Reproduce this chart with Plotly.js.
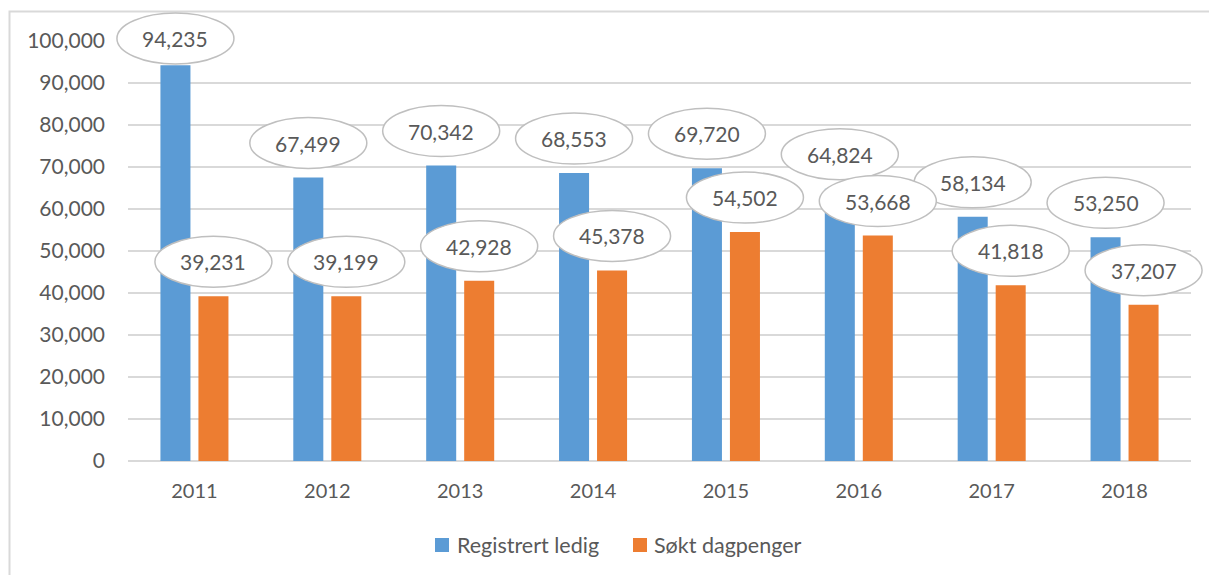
<!DOCTYPE html>
<html>
<head>
<meta charset="utf-8">
<script src="https://cdn.plot.ly/plotly-3.0.1.min.js"></script>
<style>
html,body{margin:0;padding:0;background:#fff;}
#chart{width:1209px;height:575px;}
</style>
</head>
<body>
<div id="chart"></div>
<script>
var years = ["2011","2012","2013","2014","2015","2016","2017","2018"];
var registrertLedig = [94235, 67499, 70342, 68553, 69720, 64824, 58134, 53250];
var soktDagpenger = [39231, 39199, 42928, 45378, 54502, 53668, 41818, 37207];
var seriesNames = ["Registrert ledig", "Søkt dagpenger"];
var seriesColors = ["#5B9BD5", "#ED7D31"];
var yTicks = [0,10000,20000,30000,40000,50000,60000,70000,80000,90000,100000];

var textColor = "#595959";
var fontFam = "Lato, 'Noto Sans', sans-serif";

var plotTop = 41, plotBottom = 461, plotLeft = 128, plotRight = 1191;
var yRange = [0, 100000];
var xRange = [-0.5, years.length - 0.5];
var W = plotRight - plotLeft, H = plotBottom - plotTop;
var pxPerUnit = H / (yRange[1] - yRange[0]);

// linear axis -> paper mapping (paper shapes are not clipped to the plot area)
function xToPaper(i){ return (i - xRange[0]) / (xRange[1] - xRange[0]); }
function yToPaper(v){ return (v - yRange[0]) / (yRange[1] - yRange[0]); }
function px2paperX(p){ return (p - plotLeft) / W; }
function px2paperY(p){ return (plotBottom - p) / H; }

var traces = [registrertLedig, soktDagpenger].map(function(vals, k){
  return {
    type: "bar", x: years, y: vals, name: seriesNames[k],
    marker: {color: seriesColors[k]}, hoverinfo: "skip", showlegend: false
  };
});

var shapes = [], annotations = [];
var ellW = 117, ellH = 51, barShift = 19, riseMax = 34.5, centerTopLimit = 38.5;
[registrertLedig, soktDagpenger].forEach(function(vals, k){
  var dx = k === 0 ? -barShift : barShift;
  vals.forEach(function(v, i){
    var barTopPx = plotBottom - v * pxPerUnit;
    var centerPx = Math.max(barTopPx - riseMax, centerTopLimit);
    var rise = barTopPx - centerPx;
    shapes.push({
      type: "circle", xref: "paper", yref: "paper",
      xsizemode: "pixel", ysizemode: "pixel",
      xanchor: xToPaper(i), yanchor: yToPaper(v),
      x0: dx - ellW/2, x1: dx + ellW/2,
      y0: rise - ellH/2, y1: rise + ellH/2,
      fillcolor: "#ffffff", line: {color: "#BFBFBF", width: 1.5}, layer: "above"
    });
    annotations.push({
      x: i, y: v, xref: "x", yref: "y", xshift: dx, yshift: rise,
      text: v.toLocaleString("en-US"), showarrow: false,
      font: {family: fontFam, size: 21, color: textColor},
      xanchor: "center", yanchor: "middle"
    });
  });
});

// legend (squares + labels)
var legendSquareX = [435, 633], legendTextX = [455, 652], legendY = 545, sq = 14;
seriesNames.forEach(function(name, k){
  shapes.push({
    type: "rect", xref: "paper", yref: "paper",
    x0: px2paperX(legendSquareX[k]), x1: px2paperX(legendSquareX[k] + sq),
    y0: px2paperY(legendY + sq/2), y1: px2paperY(legendY - sq/2),
    fillcolor: seriesColors[k], line: {width: 0}
  });
  annotations.push({
    xref: "paper", yref: "paper", x: px2paperX(legendTextX[k]), y: px2paperY(legendY),
    text: name, showarrow: false, xanchor: "left", yanchor: "middle",
    font: {family: fontFam, size: 21.5, color: textColor}
  });
});

// outer chart border (left and top)
shapes.push({
  type: "path", xref: "paper", yref: "paper",
  path: "M " + px2paperX(9.5) + "," + px2paperY(580) + " L " + px2paperX(9.5) + "," + px2paperY(11.5) + " L " + px2paperX(1215) + "," + px2paperY(11.5),
  line: {color: "#D9D9D9", width: 2}, layer: "below"
});

var layout = {
  width: 1209, height: 575,
  margin: {l: plotLeft, r: 1209 - plotRight, t: plotTop, b: 575 - plotBottom},
  paper_bgcolor: "#ffffff", plot_bgcolor: "#ffffff",
  barmode: "group", bargap: 0.428, bargroupgap: 0.21,
  hovermode: false,
  showlegend: false,
  xaxis: {
    type: "category", range: xRange, autorange: false,
    tickfont: {family: fontFam, size: 20, color: textColor},
    showgrid: false, showline: false, zeroline: false, ticks: "",
    ticklabelstandoff: 16, fixedrange: true
  },
  yaxis: {
    range: yRange, autorange: false, tickvals: yTicks, tickformat: ",d",
    tickfont: {family: fontFam, size: 21, color: textColor},
    showgrid: true, gridcolor: "#D9D9D9", gridwidth: 1.5,
    zeroline: true, zerolinecolor: "#D9D9D9", zerolinewidth: 1.5,
    showline: false, ticks: "", ticklabelstandoff: 22, fixedrange: true
  },
  shapes: shapes,
  annotations: annotations
};

Plotly.newPlot("chart", traces, layout, {displayModeBar: false, staticPlot: true});
</script>
</body>
</html>
